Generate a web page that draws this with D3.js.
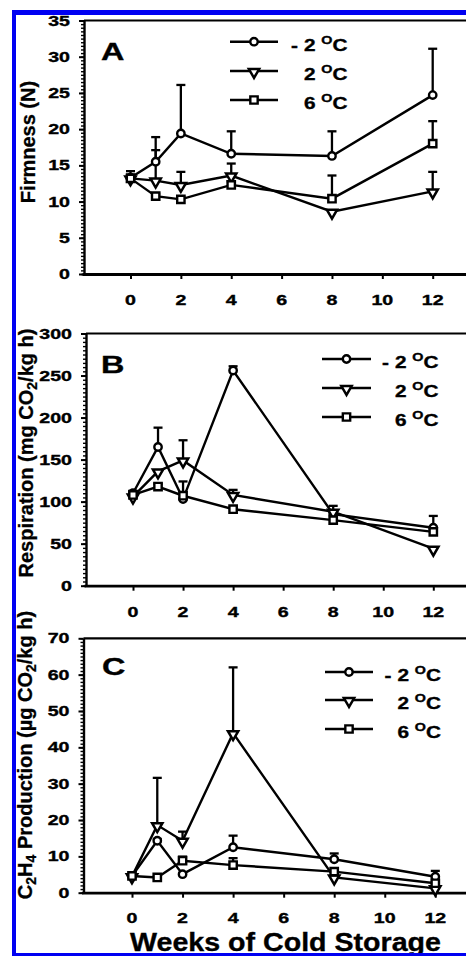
<!DOCTYPE html>
<html>
<head>
<meta charset="utf-8">
<script src="https://cdn.jsdelivr.net/npm/d3@7"></script>
<style>
    body { margin: 0; background: #fff; }
    svg { display: block; font-family: "Liberation Sans", Arial, sans-serif; font-weight: bold; }
</style>
</head>
<body>
<svg id="chart"></svg>
<script>
// semanas de armazenamento a frio
const weeks = [0, 1, 2, 4, 8, 12]
const xTicks = [0, 2, 4, 6, 8, 10, 12]
const seriesLabels = ["2", "2", "6"]   // "- 2", "2", "6" ºC
const seriesSymbols = ["circle", "triangle", "square"]

// A - Firmness (N)
const firmMinus2 = [13.3, 15.5, 19.4, 16.6, 16.3, 24.7]
const firmMinus2Err = [0.9, 3.4, 6.7, 3.1, 3.4, 6.4]
const firm2 = [13.2, 12.9, 12.3, 13.6, 8.6, 11.4]
const firm2Err = [0.5, 4.2, 1.8, 1.65, 0, 2.7]
const firm6 = [13.2, 10.75, 10.3, 12.3, 10.4, 18.0]
const firm6Err = [0.5, 0.3, 0.3, 0.5, 3.2, 3.1]
const firmTicks = [0, 5, 10, 15, 20, 25, 30, 35]

// B - Respiration (mg CO2/kg h)
const respMinus2 = [110, 165, 103, 256, 85, 69]
const respMinus2Err = [3, 23, 21, 5, 10, 14]
const resp2 = [106, 136, 149, 108, 88, 44]
const resp2Err = [3, 0, 24, 6, 0, 0]
const resp6 = [108, 118, 107, 91, 78, 64]
const resp6Err = [3, 3, 0, 2, 0, 3]
const respTicks = [0, 50, 100, 150, 200, 250, 300]

// C - C2H4 Production (ug CO2/kg h)
const ethMinus2 = [4.6, 14.3, 5.1, 12.5, 9.2, 4.4]
const ethMinus2Err = [0.4, 0.5, 0.3, 3.2, 1.6, 1.6]
const eth2 = [4.5, 18.6, 14.3, 43.9, 4.2, 1.2]
const eth2Err = [0.3, 13.0, 2.5, 18.1, 0.3, 0.2]
const eth6 = [4.6, 4.2, 8.8, 7.6, 5.8, 2.6]
const eth6Err = [0.3, 0.3, 1.1, 1.9, 0.3, 0.3]
const ethTicks = [0, 10, 20, 30, 40, 50, 60, 70]

const svgWidth = 466
const svgHeight = 956
const plotRight = 480 // a caixa continua para fora da imagem

const svg = d3.select("#chart")
    .attr("width", svgWidth)
    .attr("height", svgHeight)

svg.append("rect").attr("width", svgWidth).attr("height", svgHeight).attr("fill", "white")

const panels = [
    {
        letter: "A", left: 84, top: 20.5, bottom: 274, x0: 130.5, x12: 432.7,
        yMax: 35, yTicks: firmTicks, minorStep: 0.5,
        series: [[firmMinus2, firmMinus2Err], [firm2, firm2Err], [firm6, firm6Err]],
        legend: { x1: 230, x2: 278, rows: [41.7, 71, 100], numX: 304 },
        letterPos: [101, 60], xLabelY: 305, titleX: 35, titleY: 142,
        title: [["Firmness (N)", 0]]
    },
    {
        letter: "B", left: 86, top: 333.5, bottom: 585.7, x0: 133, x12: 433.3,
        yMax: 300, yTicks: respTicks, minorStep: 5,
        series: [[respMinus2, respMinus2Err], [resp2, resp2Err], [resp6, resp6Err]],
        legend: { x1: 322, x2: 371, rows: [359, 388, 417], numX: 395 },
        letterPos: [101, 373], xLabelY: 617, titleX: 33, titleY: 453,
        title: [["Respiration (mg CO", 0], ["2", 1], ["/kg h)", 0]]
    },
    {
        letter: "C", left: 83.5, top: 638.3, bottom: 892.7, x0: 132, x12: 435.3,
        yMax: 70, yTicks: ethTicks, minorStep: 1,
        series: [[ethMinus2, ethMinus2Err], [eth2, eth2Err], [eth6, eth6Err]],
        legend: { x1: 325, x2: 373, rows: [672, 700, 729], numX: 397.5 },
        letterPos: [102, 675], xLabelY: 923, titleX: 32, titleY: 755,
        title: [["C", 0], ["2", 1], ["H", 0], ["4", 1], [" Production (\u00b5g CO", 0], ["2", 1], ["/kg h)", 0]]
    }
]

// texto "esticado" na horizontal como no original
function wideText(g, x, y, str, size, anchor, sx) {
    return g.append("text")
        .attr("transform", `translate(${x},${y}) scale(${sx},1)`)
        .attr("text-anchor", anchor)
        .style("font-size", size + "px")
        .attr("fill", "black")
        .attr("stroke", "black")
        .attr("stroke-width", 0.35)
        .text(str)
}

function drawMarker(g, type, cx, cy) {
    if (type == "circle") {
        g.append("circle").attr("cx", cx).attr("cy", cy).attr("r", 3.7)
            .attr("fill", "white").attr("stroke", "black").attr("stroke-width", 2.4)
    } else if (type == "triangle") {
        g.append("path").attr("d", d3.symbol(d3.symbolTriangle, 46)())
            .attr("transform", `translate(${cx},${cy + 1}) rotate(180)`)
            .attr("fill", "white").attr("stroke", "black").attr("stroke-width", 2.5)
    } else {
        g.append("path").attr("d", d3.symbol(d3.symbolSquare, 54)())
            .attr("transform", `translate(${cx},${cy})`)
            .attr("fill", "white").attr("stroke", "black").attr("stroke-width", 2.4)
    }
}

function drawPanel(p) {
    const g = svg.append("g")

    const x = d3.scaleLinear().domain([0, 12]).range([p.x0, p.x12])
    const y = d3.scaleLinear().domain([0, p.yMax]).range([p.bottom, p.top])

    // linha de cima da caixa
    g.append("line")
        .attr("x1", p.left).attr("x2", plotRight)
        .attr("y1", p.top).attr("y2", p.top)
        .attr("stroke", "black").attr("stroke-width", 2.2)

    // eixo y: ticks menores e maiores
    const minor = d3.range(0, p.yMax + 0.001, p.minorStep)
    g.append("g")
        .attr("transform", `translate(${p.left},0)`)
        .call(d3.axisLeft(y).tickValues(minor).tickSize(3).tickSizeOuter(0).tickFormat(""))
        .call(a => a.selectAll(".tick line").attr("stroke-width", 1.4))
        .call(a => a.select(".domain").remove())

    g.append("g")
        .attr("transform", `translate(${p.left},0)`)
        .call(d3.axisLeft(y).tickValues(p.yTicks).tickSize(5).tickSizeOuter(0).tickFormat(""))
        .call(a => a.selectAll(".tick line").attr("stroke-width", 2))
        .call(a => a.select(".domain").attr("stroke-width", 2.4))

    p.yTicks.forEach(t => {
        wideText(g, p.left - 14, y(t) + 5, t, 14, "end", 1.4)
    })

    // eixo x, a linha vai ate fora da imagem
    const xAxisScale = x.copy()
        .domain([x.invert(p.left - 2), x.invert(plotRight)])
        .range([p.left - 2, plotRight])

    g.append("g")
        .attr("transform", `translate(0,${p.bottom})`)
        .call(d3.axisBottom(xAxisScale).tickValues(xTicks).tickSize(5).tickSizeOuter(0).tickFormat(""))
        .call(a => a.selectAll(".tick line").attr("stroke-width", 2))
        .call(a => a.select(".domain").attr("stroke-width", 2.8))

    xTicks.forEach(t => {
        wideText(g, x(t), p.xLabelY, t, 14, "middle", 1.4)
    })

    // titulo do eixo y
    const title = g.append("text")
        .attr("transform", `translate(${p.titleX},${p.titleY}) rotate(-90)`)
        .attr("text-anchor", "middle")
        .attr("stroke", "black")
        .attr("stroke-width", 0.3)
        .style("font-size", "20px")
    let shift = 0
    p.title.forEach(part => {
        const sub = part[1] == 1
        const dy = sub ? 4 - shift : -shift
        title.append("tspan")
            .attr("dy", dy)
            .style("font-size", sub ? "14px" : "20px")
            .text(part[0])
        shift = sub ? 4 : 0
    })

    // letra do painel
    wideText(g, p.letterPos[0], p.letterPos[1], p.letter, 24, "start", 1.35)

    // barras de erro (so para cima)
    p.series.forEach(s => {
        s[0].forEach((v, i) => {
            const e = s[1][i]
            if (e <= 0) return
            const cx = x(weeks[i])
            g.append("line").attr("x1", cx).attr("x2", cx)
                .attr("y1", y(v)).attr("y2", y(v + e))
                .attr("stroke", "black").attr("stroke-width", 2.3)
            g.append("line").attr("x1", cx - 4.5).attr("x2", cx + 4.5)
                .attr("y1", y(v + e)).attr("y2", y(v + e))
                .attr("stroke", "black").attr("stroke-width", 2.3)
        })
    })

    // linhas
    const line = d3.line()
        .x((d, i) => x(weeks[i]))
        .y(d => y(d))

    p.series.forEach(s => {
        g.append("path")
            .attr("d", line(s[0]))
            .attr("fill", "none")
            .attr("stroke", "black")
            .attr("stroke-width", 2.4)
    })

    // marcadores
    p.series.forEach((s, k) => {
        s[0].forEach((v, i) => drawMarker(g, seriesSymbols[k], x(weeks[i]), y(v)))
    })

    // legenda
    const L = p.legend
    L.rows.forEach((ry, k) => {
        g.append("line").attr("x1", L.x1).attr("x2", L.x2)
            .attr("y1", ry).attr("y2", ry)
            .attr("stroke", "black").attr("stroke-width", 2.4)
        drawMarker(g, seriesSymbols[k], (L.x1 + L.x2) / 2, ry)

        if (k == 0) wideText(g, L.numX - 13, ry + 9, "-", 16, "start", 1.3)
        const t = wideText(g, L.numX, ry + 9, "", 16, "start", 1.3)
        t.append("tspan").text(seriesLabels[k] + " ")
        t.append("tspan").attr("dy", -7).style("font-size", "11px").text("O")
        t.append("tspan").attr("dy", 7).text("C")
    })
}

panels.forEach(drawPanel)

// titulo do eixo x (em baixo, junto a moldura)
wideText(svg, 285.5, 951, "Weeks of Cold Storage", 26, "middle", 1.1)

// moldura azul
const blue = "#0000f2"
svg.append("rect").attr("x", 12).attr("y", 10).attr("width", 4).attr("height", svgHeight - 10).attr("fill", blue)
svg.append("rect").attr("x", 12).attr("y", 10).attr("width", svgWidth - 12).attr("height", 5).attr("fill", blue)
svg.append("rect").attr("x", 12).attr("y", 953).attr("width", svgWidth - 12).attr("height", 3).attr("fill", blue)
</script>
</body>
</html>
